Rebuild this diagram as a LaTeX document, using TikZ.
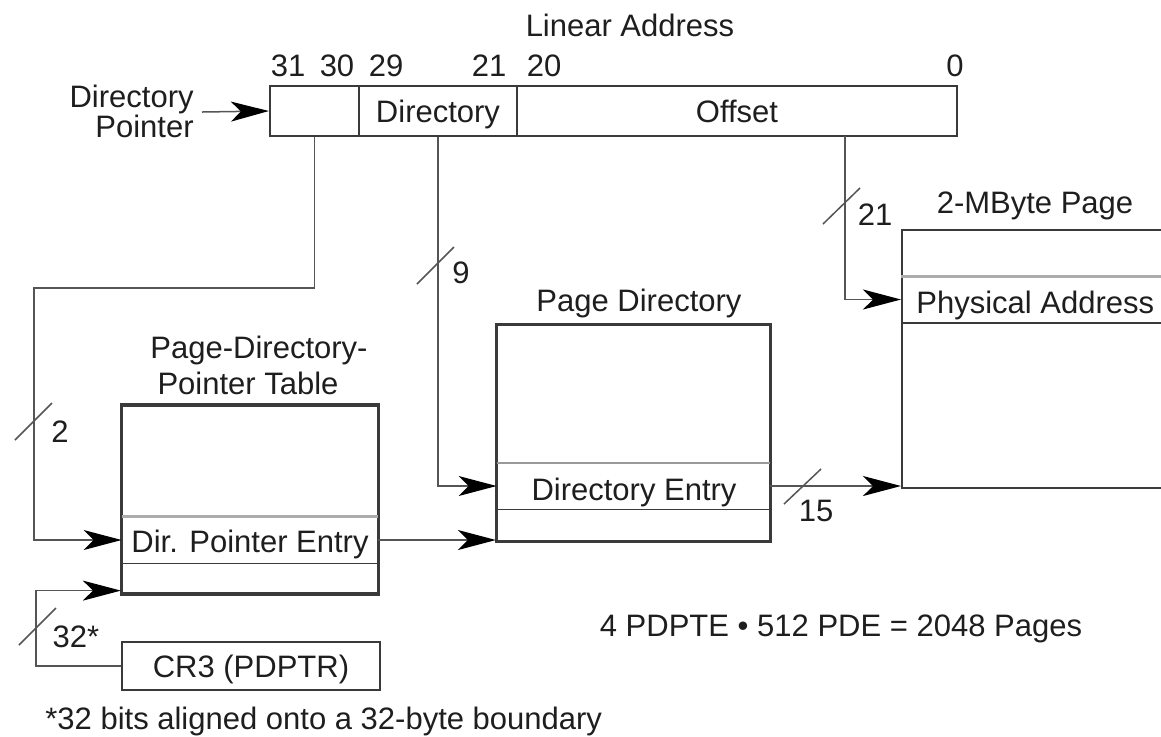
\documentclass[tikz,border=0pt]{standalone}
\usepackage{fontspec}
\setmainfont{Liberation Sans}
\usetikzlibrary{arrows.meta}

\definecolor{ink}{HTML}{1E1E1E}
\definecolor{rule}{HTML}{3A3A3A}
\definecolor{wire}{HTML}{555555}

\begin{document}
\begin{tikzpicture}[x=0.5pt,y=-0.5pt,
  every node/.style={text=ink,font=\fontsize{15.5}{18}\selectfont,inner sep=0pt,
                     text height=11.1pt,text depth=0pt},
  field/.style={draw=rule,line width=1.1pt,minimum height=25pt},
  table/.style={draw=rule,line width=1.1pt},
  rowbox/.style={minimum height=23pt},
  upperrule/.style={draw=gray!65,line width=1.4pt},
  lowerrule/.style={draw=rule,line width=0.9pt},
  conn/.style={draw=wire,line width=0.75pt},
  tip/.style={-{Stealth[length=19pt,width=10pt,inset=5pt,color=black]}},
  slash/.style={draw=wire,line width=0.75pt},
]
\clip (0,0) rectangle (1161,736);

% ---------- linear address ----------
\node (title) at (630,25) {Linear Address};
\node (b31) at (288,65) {31};
\node (b30) at (337,65) {30};
\node (b29) at (386,65) {29};
\node (b21) at (489,65) {21};
\node (b20) at (544,65) {20};
\node (b0)  at (955,65) {0};

\node[field,minimum width=44.5pt] (f1) at (314.5,111) {};
\node[field,minimum width=79pt]   (f2) at (438,111) {Directory};
\node[field,minimum width=220pt]  (f3) at (737,111) {Offset};

\node[anchor=east] (dpl1) at (194,96) {Directory};
\node[anchor=east] (dpl2) at (194,126) {Pointer};
\coordinate (dpstart) at (202,112);
\draw[conn,tip] (dpstart) -- (f1.west);

% ---------- page-directory-pointer table ----------
\node (pdptt1) at (259,347) {Page-Directory-};
\node (pdptt2) at (248,383) {Pointer Table};
\node[table,minimum width=128pt,minimum height=94pt] (pdpt) at (250,499.5) {};
\node[rowbox,minimum width=128pt] (pdpte) at (250,540) {};
\node (pdptel) at (250,541.5) {Dir. Pointer Entry};
\draw[upperrule] (pdpte.north west) -- (pdpte.north east);
\draw[lowerrule] (pdpte.south west) -- (pdpte.south east);
\draw[table] (pdpt.south west) rectangle (pdpt.north east);

% ---------- CR3 ----------
\node[field,minimum width=129pt,minimum height=24pt] (cr3) at (251,666) {CR3 (PDPTR)};
\node[anchor=west] (foot) at (45,718) {*32 bits aligned onto a 32-byte boundary};

% ---------- page directory ----------
\node (pdt) at (639,300) {Page Directory};
\node[table,minimum width=136.5pt,minimum height=108pt] (pd) at (633.5,433) {};
\node[rowbox,minimum width=136.5pt] (pdent) at (633.5,486) {};
\node (pdentl) at (634,489) {Directory Entry};
\draw[lowerrule,draw=gray!80] (pdent.north west) -- (pdent.north east);
\draw[lowerrule] (pdent.south west) -- (pdent.south east);
\draw[table] (pd.south west) rectangle (pd.north east);

% ---------- 2-MByte page ----------
\node (pgt) at (1035,202) {2-MByte Page};
\node[table,minimum width=160pt,minimum height=129pt,anchor=north west] (page) at (901,229) {};
\node[rowbox,anchor=west,minimum width=160pt] (phys) at (901,299.5) {};
\node[anchor=west] (physl) at (916,302) {Physical Address};
\draw[upperrule] (phys.north west) -- (phys.north east);
\draw[lowerrule] (phys.south west) -- (phys.south east);

% ---------- connectors ----------
\coordinate (bendA) at (34,288);
\draw[conn,tip] (f1.south) |- (bendA) |- (pdpte.west);
\draw[conn,tip] (f2.south) |- (pdent.west);
\coordinate (offtap) at (845,136);
\draw[conn,tip] (offtap) |- (phys.west);
\draw[conn,tip] (pdpte.east) -- (pdpte.east -| pd.west);
\draw[conn,tip] (pdent.east) -- (pdent.east -| page.west);
\coordinate (cr3in) at ([yshift=2pt]pdpt.south west);
\coordinate (bendC) at (36,666);
\draw[conn,tip] (cr3.west) -- (bendC) |- (cr3in);

% ---------- bus-width slashes ----------
\coordinate (s2) at (34,421);
\draw[slash] ([shift={(-19,19)}]s2) -- ([shift={(18,-18)}]s2);
\node (n2) at (60,431) {2};

\coordinate (s9) at (436,265);
\draw[slash] ([shift={(-19,19)}]s9) -- ([shift={(18,-18)}]s9);
\node (n9) at (461,272) {9};

\coordinate (s21) at (845,206);
\draw[slash] ([shift={(-22,18)}]s21) -- ([shift={(15,-18)}]s21);
\node (n21) at (875,214) {21};

\coordinate (s32) at (36,627);
\draw[slash] ([shift={(-17,18)}]s32) -- ([shift={(20,-19)}]s32);
\node (n32) at (76,636) {32*};

\coordinate (s15) at (802,487);
\draw[slash] ([shift={(-18,17)}]s15) -- ([shift={(19,-18)}]s15);
\node (n15) at (816,510) {15};

% ---------- summary ----------
\node (sum) at (841,625) {4 PDPTE • 512 PDE = 2048 Pages};
\end{tikzpicture}
\end{document}
